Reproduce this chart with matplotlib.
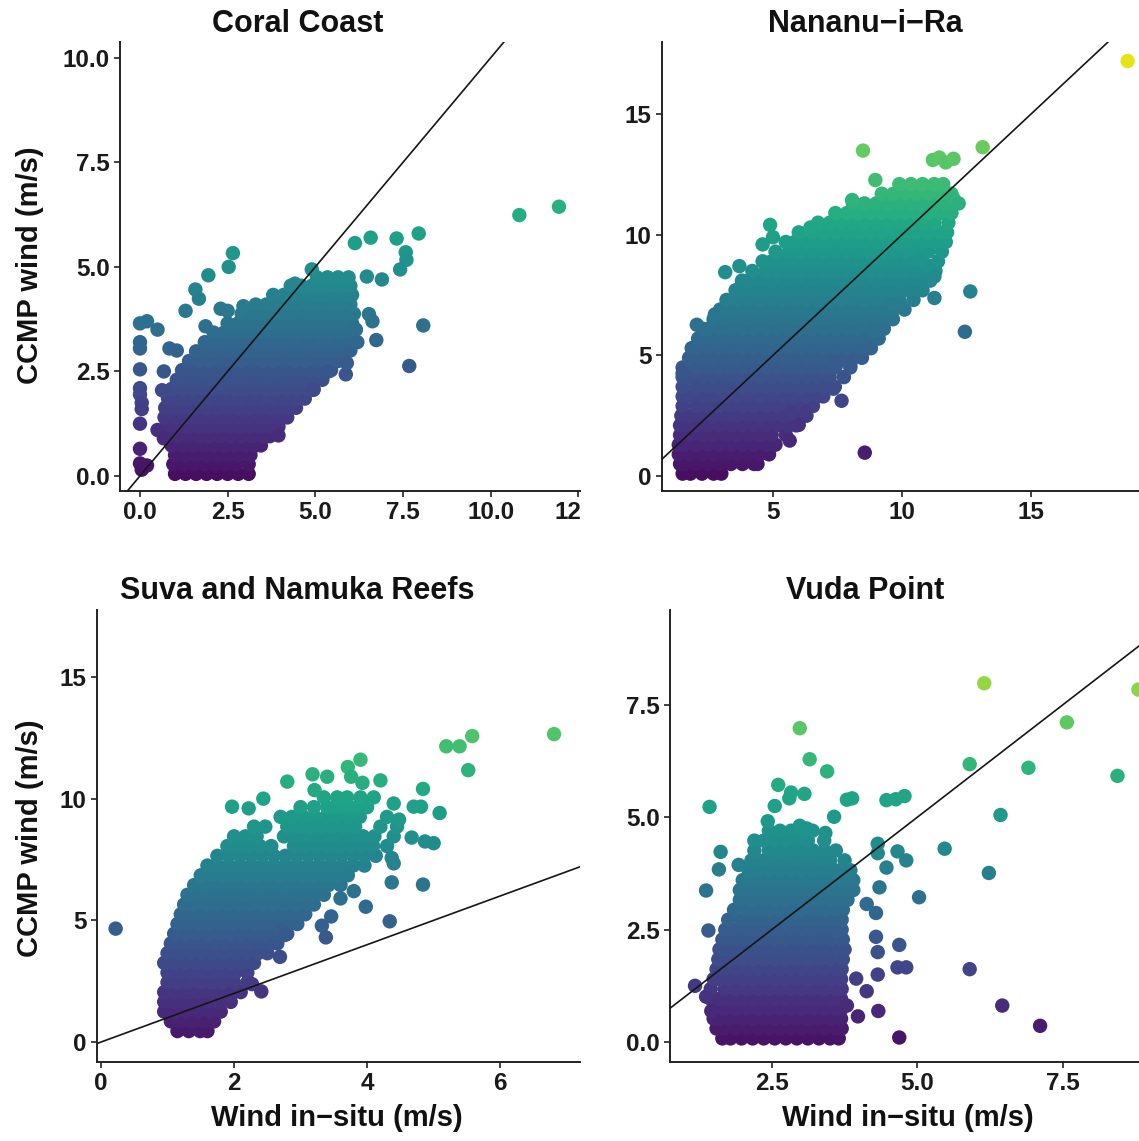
import numpy as np
import matplotlib
matplotlib.use("Agg")
import matplotlib.pyplot as plt
from matplotlib.transforms import Bbox, TransformedBbox

plt.rcParams['font.family'] = ['Liberation Sans', 'DejaVu Sans']
plt.rcParams['font.weight'] = 'bold'

W, H = 1139, 1141

# --- Coral Coast : rows of the dense cloud (CCMP, [in-situ ...]) + isolated points
coral_rows = [
    (0.05, [1.0, 1.3, 1.6, 1.9, 2.2, 2.5, 2.8, 3.1]),
    (0.28, [0.95, 1.25, 1.55, 1.85, 2.15, 2.45, 2.75, 3.1]),
    (0.5, [1.0, 1.3, 1.6, 1.9, 2.2, 2.5, 2.8, 3.15]),
    (0.73, [0.9, 1.2, 1.5, 1.8, 2.1, 2.4, 2.7, 3.0, 3.3, 3.45]),
    (0.95, [0.8, 1.1, 1.4, 1.7, 2.0, 2.3, 2.6, 2.9, 3.2, 3.5, 3.7]),
    (1.18, [0.75, 1.05, 1.35, 1.65, 1.95, 2.25, 2.55, 2.85, 3.15, 3.45, 3.75, 3.95]),
    (1.4, [0.7, 1.0, 1.3, 1.6, 1.9, 2.2, 2.5, 2.8, 3.1, 3.4, 3.7, 4.0, 4.2]),
    (1.63, [0.72, 1.0, 1.3, 1.6, 1.9, 2.2, 2.5, 2.8, 3.1, 3.4, 3.7, 4.0, 4.3, 4.45]),
    (1.85, [0.8, 1.1, 1.4, 1.7, 2.0, 2.3, 2.6, 2.9, 3.2, 3.5, 3.8, 4.1, 4.4, 4.7]),
    (2.08, [0.9, 1.2, 1.5, 1.8, 2.1, 2.4, 2.7, 3.0, 3.3, 3.6, 3.9, 4.2, 4.5, 4.8, 4.95]),
    (2.3, [1.05, 1.35, 1.65, 1.95, 2.25, 2.55, 2.85, 3.15, 3.45, 3.75, 4.05, 4.35, 4.65, 4.95, 5.2]),
    (2.53, [1.2, 1.5, 1.8, 2.1, 2.4, 2.7, 3.0, 3.3, 3.6, 3.9, 4.2, 4.5, 4.8, 5.1, 5.45]),
    (2.75, [1.4, 1.7, 2.0, 2.3, 2.6, 2.9, 3.2, 3.5, 3.8, 4.1, 4.4, 4.7, 5.0, 5.3, 5.65]),
    (2.98, [1.6, 1.9, 2.2, 2.5, 2.8, 3.1, 3.4, 3.7, 4.0, 4.3, 4.6, 4.9, 5.2, 5.5, 5.8]),
    (3.2, [1.85, 2.15, 2.45, 2.75, 3.05, 3.35, 3.65, 3.95, 4.25, 4.55, 4.85, 5.15, 5.45, 5.75, 5.9]),
    (3.43, [2.1, 2.4, 2.7, 3.0, 3.3, 3.6, 3.9, 4.2, 4.5, 4.8, 5.1, 5.4, 5.7, 6.0]),
    (3.65, [2.5, 2.8, 3.1, 3.4, 3.7, 4.0, 4.3, 4.6, 4.9, 5.2, 5.5, 5.8, 6.05]),
    (3.88, [2.9, 3.2, 3.5, 3.8, 4.1, 4.4, 4.7, 5.0, 5.3, 5.6, 5.9, 6.1]),
    (4.1, [3.3, 3.6, 3.9, 4.2, 4.5, 4.8, 5.1, 5.4, 5.7, 6.0]),
    (4.33, [3.8, 4.1, 4.4, 4.7, 5.0, 5.3, 5.6, 5.9, 6.05]),
    (4.55, [4.3, 4.6, 4.9, 5.2, 5.5, 5.8, 6.0]),
    (4.75, [5.05, 5.35, 5.65, 5.95]),
]
coral_x = [0.0, 0.2, 0.5, 0.0, 0.0, 0.0, 0.0, 0.0, 0.05, 0.05, 0.0, 0.0, 0.0, 0.05, 0.2,
           0.5, 0.68, 0.63, 0.68, 0.84, 1.05, 1.3, 1.58, 1.68, 1.95, 2.53, 2.65, 2.3, 2.5,
           2.95, 1.87, 4.42, 4.9, 6.13, 6.58, 7.32, 7.95, 7.58, 7.6, 7.42, 6.47, 6.9, 6.53,
           6.63, 6.74, 8.08, 7.68, 6.16, 5.87, 4.95, 3.95, 5.37, 6.0, 6.2, 5.9, 10.82, 11.95]
coral_y = [3.65, 3.7, 3.5, 3.2, 3.05, 2.55, 2.1, 1.95, 1.75, 1.6, 1.25, 0.65, 0.3, 0.15, 0.25,
           1.1, 0.9, 2.05, 2.5, 3.05, 3.0, 3.95, 4.46, 4.24, 4.8, 5.0, 5.33, 4.0, 3.95,
           4.06, 3.58, 4.6, 4.94, 5.57, 5.7, 5.68, 5.8, 5.35, 5.17, 4.94, 4.77, 4.7, 3.87,
           3.7, 3.25, 3.6, 2.63, 3.5, 2.43, 2.06, 0.97, 2.5, 3.0, 3.2, 2.7, 6.24, 6.44]

# --- Nananu-i-Ra
nananu_rows = [
    (0.1, [1.5, 1.8, 2.25, 2.7, 3.0]),
    (0.5, [1.4, 1.57, 2.02, 2.47, 2.92, 3.37, 3.82, 4.27, 4.4]),
    (0.9, [1.35, 1.8, 2.25, 2.7, 3.15, 3.6, 4.05, 4.5, 4.85]),
    (1.3, [1.35, 1.57, 2.02, 2.47, 2.92, 3.37, 3.82, 4.27, 4.72, 5.1]),
    (1.7, [1.4, 1.8, 2.25, 2.7, 3.15, 3.6, 4.05, 4.5, 4.95, 5.5]),
    (2.1, [1.4, 1.57, 2.02, 2.47, 2.92, 3.37, 3.82, 4.27, 4.72, 5.17, 5.62, 5.9]),
    (2.5, [1.45, 1.8, 2.25, 2.7, 3.15, 3.6, 4.05, 4.5, 4.95, 5.4, 5.85, 6.3]),
    (2.9, [1.5, 2.02, 2.47, 2.92, 3.37, 3.82, 4.27, 4.72, 5.17, 5.62, 6.07, 6.55]),
    (3.3, [1.5, 1.8, 2.25, 2.7, 3.15, 3.6, 4.05, 4.5, 4.95, 5.4, 5.85, 6.3, 6.75, 6.95]),
    (3.7, [1.5, 2.02, 2.47, 2.92, 3.37, 3.82, 4.27, 4.72, 5.17, 5.62, 6.07, 6.52, 6.97, 7.4]),
    (4.1, [1.5, 1.8, 2.25, 2.7, 3.15, 3.6, 4.05, 4.5, 4.95, 5.4, 5.85, 6.3, 6.75, 7.2, 7.75]),
    (4.5, [1.5, 2.02, 2.47, 2.92, 3.37, 3.82, 4.27, 4.72, 5.17, 5.62, 6.07, 6.52, 6.97, 7.42,
           8.0]),
    (4.9, [1.75, 2.25, 2.7, 3.15, 3.6, 4.05, 4.5, 4.95, 5.4, 5.85, 6.3, 6.75, 7.2, 7.65, 8.1,
           8.45]),
    (5.3, [1.85, 2.02, 2.47, 2.92, 3.37, 3.82, 4.27, 4.72, 5.17, 5.62, 6.07, 6.52, 6.97, 7.42,
           7.87, 8.32, 8.8]),
    (5.7, [2.1, 2.25, 2.7, 3.15, 3.6, 4.05, 4.5, 4.95, 5.4, 5.85, 6.3, 6.75, 7.2, 7.65, 8.1,
           8.55, 9.1]),
    (6.1, [2.3, 2.47, 2.92, 3.37, 3.82, 4.27, 4.72, 5.17, 5.62, 6.07, 6.52, 6.97, 7.42, 7.87,
           8.32, 8.77, 9.3]),
    (6.5, [2.7, 3.15, 3.6, 4.05, 4.5, 4.95, 5.4, 5.85, 6.3, 6.75, 7.2, 7.65, 8.1, 8.55, 9.0,
           9.45, 9.65]),
    (6.9, [2.95, 3.37, 3.82, 4.27, 4.72, 5.17, 5.62, 6.07, 6.52, 6.97, 7.42, 7.87, 8.32, 8.77,
           9.22, 9.67, 10.1]),
    (7.3, [3.2, 3.6, 4.05, 4.5, 4.95, 5.4, 5.85, 6.3, 6.75, 7.2, 7.65, 8.1, 8.55, 9.0, 9.45,
           9.9, 10.45]),
    (7.7, [3.55, 3.82, 4.27, 4.72, 5.17, 5.62, 6.07, 6.52, 6.97, 7.42, 7.87, 8.32, 8.77, 9.22,
           9.67, 10.12, 10.57, 10.8]),
    (8.1, [3.8, 4.05, 4.5, 4.95, 5.4, 5.85, 6.3, 6.75, 7.2, 7.65, 8.1, 8.55, 9.0, 9.45, 9.9,
           10.35, 10.8, 11.1]),
    (8.5, [4.2, 4.72, 5.17, 5.62, 6.07, 6.52, 6.97, 7.42, 7.87, 8.32, 8.77, 9.22, 9.67, 10.12,
           10.57, 11.02, 11.3]),
    (8.9, [4.6, 4.95, 5.4, 5.85, 6.3, 6.75, 7.2, 7.65, 8.1, 8.55, 9.0, 9.45, 9.9, 10.35, 10.8,
           11.4]),
    (9.3, [5.1, 5.62, 6.07, 6.52, 6.97, 7.42, 7.87, 8.32, 8.77, 9.22, 9.67, 10.12, 10.57, 11.02,
           11.55]),
    (9.7, [5.5, 5.85, 6.3, 6.75, 7.2, 7.65, 8.1, 8.55, 9.0, 9.45, 9.9, 10.35, 10.8, 11.25, 11.7]),
    (10.1, [6.0, 6.52, 6.97, 7.42, 7.87, 8.32, 8.77, 9.22, 9.67, 10.12, 10.57, 11.02, 11.47,
            11.75]),
    (10.5, [6.75, 7.2, 7.65, 8.1, 8.55, 9.0, 9.45, 9.9, 10.35, 10.8, 11.25, 11.8]),
    (10.9, [7.42, 7.87, 8.32, 8.77, 9.22, 9.67, 10.12, 10.57, 11.02, 11.47, 11.92]),
    (11.3, [8.1, 8.55, 9.0, 9.45, 9.9, 10.35, 10.8, 11.25, 11.7, 12.1]),
    (11.7, [9.22, 9.67, 10.12, 10.57, 11.02, 11.47, 11.92]),
    (12.1, [9.9, 10.35, 10.8, 11.25, 11.6]),
]
nananu_x = [4.89, 8.07, 6.45, 8.49, 8.97, 11.2, 11.45, 11.7, 12.0, 13.13, 18.75, 12.0, 12.2,
            12.65, 11.26, 12.44, 9.94, 11.12, 11.26, 10.7, 9.67, 8.56, 7.66, 7.34, 6.0, 6.27,
            5.72, 5.65, 8.0, 7.45, 8.6, 8.9, 8.7, 3.15, 3.7, 2.05, 1.5, 2.75, 5.0, 4.6]
nananu_y = [10.41, 11.44, 10.3, 13.49, 12.27, 13.1, 13.2, 13.0, 13.15, 13.63, 17.2, 11.5, 11.3,
            7.65, 7.38, 5.98, 7.12, 8.7, 8.27, 8.98, 7.12, 0.97, 3.12, 3.62, 2.12, 2.62,
            2.62, 1.47, 4.62, 4.62, 5.6, 6.0, 5.3, 8.45, 8.7, 6.27, 4.26, 6.7, 9.9, 9.6]

# --- Suva and Namuka Reefs
suva_rows = [
    (0.45, [1.15, 1.32, 1.49, 1.6]),
    (0.85, [1.05, 1.2, 1.37, 1.54, 1.7]),
    (1.25, [0.95, 1.12, 1.29, 1.46, 1.63, 1.8]),
    (1.65, [0.95, 1.1, 1.27, 1.44, 1.61, 1.78, 1.95]),
    (2.05, [0.95, 1.12, 1.29, 1.46, 1.63, 1.8, 1.97, 2.1]),
    (2.45, [1.0, 1.15, 1.32, 1.49, 1.66, 1.83, 2.0, 2.2]),
    (2.85, [1.0, 1.17, 1.34, 1.51, 1.68, 1.85, 2.02, 2.2]),
    (3.25, [0.95, 1.1, 1.27, 1.44, 1.61, 1.78, 1.95, 2.12, 2.3]),
    (3.65, [1.0, 1.17, 1.34, 1.51, 1.68, 1.85, 2.02, 2.19, 2.36, 2.5]),
    (4.05, [1.05, 1.2, 1.37, 1.54, 1.71, 1.88, 2.05, 2.22, 2.39, 2.56, 2.65]),
    (4.45, [1.1, 1.27, 1.44, 1.61, 1.78, 1.95, 2.12, 2.29, 2.46, 2.63, 2.8]),
    (4.85, [1.15, 1.3, 1.47, 1.64, 1.81, 1.98, 2.15, 2.32, 2.49, 2.66, 2.83, 2.95]),
    (5.25, [1.2, 1.37, 1.54, 1.71, 1.88, 2.05, 2.22, 2.39, 2.56, 2.73, 2.9, 3.07]),
    (5.65, [1.25, 1.4, 1.57, 1.74, 1.91, 2.08, 2.25, 2.42, 2.59, 2.76, 2.93, 3.1, 3.2]),
    (6.05, [1.3, 1.47, 1.64, 1.81, 1.98, 2.15, 2.32, 2.49, 2.66, 2.83, 3.0, 3.17, 3.35]),
    (6.45, [1.4, 1.55, 1.72, 1.89, 2.06, 2.23, 2.4, 2.57, 2.74, 2.91, 3.08, 3.25, 3.42, 3.6]),
    (6.85, [1.5, 1.67, 1.84, 2.01, 2.18, 2.35, 2.52, 2.69, 2.86, 3.03, 3.2, 3.37, 3.54, 3.71]),
    (7.25, [1.6, 1.75, 1.92, 2.09, 2.26, 2.43, 2.6, 2.77, 2.94, 3.11, 3.28, 3.45, 3.62, 3.79,
            3.96]),
    (7.65, [1.75, 1.92, 2.09, 2.26, 2.43, 2.6, 2.77, 2.94, 3.11, 3.28, 3.45, 3.62, 3.79, 3.96,
            4.13]),
    (8.05, [1.9, 2.05, 2.22, 2.39, 2.56, 2.9, 3.07, 3.24, 3.41, 3.58, 3.75, 3.92, 4.09, 4.3]),
    (8.45, [2.0, 2.17, 2.34, 2.75, 2.92, 3.09, 3.26, 3.43, 3.6, 3.77, 3.94, 4.11, 4.4]),
    (8.85, [2.3, 2.47, 2.8, 2.97, 3.14, 3.31, 3.48, 3.65, 3.82, 4.2, 4.45]),
    (9.25, [2.7, 2.87, 3.04, 3.21, 3.38, 3.55, 3.72, 3.89, 4.3]),
    (9.65, [3.0, 3.2, 3.4, 3.55, 3.7, 3.85, 4.0]),
    (10.05, [3.35, 3.55, 3.7, 3.9]),
]
suva_x = [0.22, 1.97, 2.22, 2.44, 2.8, 3.18, 3.4, 3.21, 3.71, 3.9, 3.76, 3.93, 4.2, 4.1, 4.4,
          4.84, 4.7, 4.81, 5.09, 4.87, 5.0, 4.67, 4.48, 4.37, 4.4, 4.37, 4.84, 3.98, 4.34,
          3.46, 3.32, 3.38, 2.72, 2.77, 2.69, 2.27, 2.41, 1.94, 5.19, 5.39, 5.58, 5.52, 6.81,
          3.6, 3.8]
suva_y = [4.66, 9.67, 9.6, 10.0, 10.7, 11.0, 10.9, 10.35, 11.3, 11.6, 10.9, 10.65, 10.75, 10.05,
          9.8, 10.4, 9.67, 9.67, 9.41, 8.24, 8.17, 8.4, 9.14, 7.56, 7.34, 6.56, 6.47, 5.56,
          4.96, 5.16, 4.78, 4.3, 4.56, 4.4, 3.5, 2.38, 2.08, 1.92, 12.15, 12.15, 12.57,
          11.17, 12.65, 5.9, 6.2]

# --- Vuda Point
vuda_rows = [
    (0.08, [1.65, 1.79, 1.98, 2.17, 2.36, 2.55, 2.74, 2.93, 3.12, 3.31, 3.5, 3.65]),
    (0.3, [1.55, 1.69, 1.88, 2.07, 2.26, 2.45, 2.64, 2.83, 3.02, 3.21, 3.4, 3.59, 3.7]),
    (0.52, [1.5, 1.6, 1.79, 1.98, 2.17, 2.36, 2.55, 2.74, 2.93, 3.12, 3.31, 3.5, 3.69]),
    (0.74, [1.5, 1.69, 1.88, 2.07, 2.26, 2.45, 2.64, 2.83, 3.02, 3.21, 3.4, 3.59, 3.7]),
    (0.96, [1.45, 1.6, 1.79, 1.98, 2.17, 2.36, 2.55, 2.74, 2.93, 3.12, 3.31, 3.5, 3.69]),
    (1.18, [1.45, 1.69, 1.88, 2.07, 2.26, 2.45, 2.64, 2.83, 3.02, 3.21, 3.4, 3.59, 3.7]),
    (1.4, [1.5, 1.6, 1.79, 1.98, 2.17, 2.36, 2.55, 2.74, 2.93, 3.12, 3.31, 3.5, 3.69]),
    (1.62, [1.55, 1.69, 1.88, 2.07, 2.26, 2.45, 2.64, 2.83, 3.02, 3.21, 3.4, 3.59, 3.7]),
    (1.84, [1.58, 1.79, 1.98, 2.17, 2.36, 2.55, 2.74, 2.93, 3.12, 3.31, 3.5, 3.72]),
    (2.06, [1.6, 1.69, 1.88, 2.07, 2.26, 2.45, 2.64, 2.83, 3.02, 3.21, 3.4, 3.59, 3.75]),
    (2.28, [1.65, 1.79, 1.98, 2.17, 2.36, 2.55, 2.74, 2.93, 3.12, 3.31, 3.5, 3.72]),
    (2.5, [1.7, 1.88, 2.07, 2.26, 2.45, 2.64, 2.83, 3.02, 3.21, 3.4, 3.59, 3.7]),
    (2.72, [1.75, 1.98, 2.17, 2.36, 2.55, 2.74, 2.93, 3.12, 3.31, 3.5, 3.7]),
    (2.94, [1.85, 2.07, 2.26, 2.45, 2.64, 2.83, 3.02, 3.21, 3.4, 3.59, 3.72]),
    (3.16, [1.95, 2.17, 2.36, 2.55, 2.74, 2.93, 3.12, 3.31, 3.5, 3.69, 3.8]),
    (3.38, [1.95, 2.07, 2.26, 2.45, 2.64, 2.83, 3.02, 3.21, 3.4, 3.59, 3.78, 3.9]),
    (3.6, [2.0, 2.17, 2.36, 2.55, 2.74, 2.93, 3.12, 3.31, 3.5, 3.69, 3.9]),
    (3.82, [2.1, 2.26, 2.45, 2.64, 2.83, 3.02, 3.21, 3.4, 3.59, 3.78, 3.85]),
    (4.04, [2.15, 2.36, 2.55, 2.74, 2.93, 3.12, 3.31, 3.5, 3.75]),
    (4.26, [2.2, 2.45, 2.64, 2.83, 3.02, 3.21, 3.4, 3.6]),
    (4.48, [2.2, 2.36, 2.55, 2.74, 2.93, 3.12, 3.4]),
    (4.7, [2.45, 2.64, 2.83, 3.02, 3.2]),
]
vuda_x = [1.43, 1.62, 1.59, 1.37, 1.41, 1.18, 1.37, 1.46, 1.93, 2.98, 3.15, 3.45, 2.61, 2.83,
          3.06, 2.8, 3.79, 3.88, 4.47, 4.63, 4.78, 2.55, 2.43, 3.57, 3.42, 4.32, 4.32, 4.66,
          4.81, 4.47, 4.35, 4.29, 4.13, 5.03, 5.47, 4.29, 4.32, 4.69, 4.66, 4.81, 4.32, 3.95,
          4.13, 4.33, 3.79, 3.98, 4.69, 5.9, 6.46, 7.11, 6.23, 6.43, 5.9, 6.15, 6.91, 7.57,
          8.44, 8.8, 2.98, 3.1]
vuda_y = [5.23, 4.23, 3.84, 3.37, 2.48, 1.25, 1.01, 0.69, 3.94, 6.98, 6.29, 6.02, 5.72, 5.55,
          5.52, 5.42, 5.39, 5.42, 5.38, 5.4, 5.47, 5.25, 4.91, 5.01, 4.65, 4.41, 4.2, 4.24,
          4.04, 3.88, 3.44, 2.87, 3.07, 3.22, 4.3, 2.34, 2.0, 2.16, 1.66, 1.66, 1.5, 1.41,
          1.13, 0.69, 0.81, 0.57, 0.1, 1.62, 0.81, 0.36, 3.76, 5.05, 6.18, 7.98, 6.1, 7.11,
          5.92, 7.84, 4.81, 4.75]


def unpack(rows, ex_x, ex_y):
    xs, ys = [], []
    for yv, row in rows:
        xs += row
        ys += [yv] * len(row)
    return np.array(xs + ex_x), np.array(ys + ex_y)


def add_panel(fig, box, x, y, xlim, ylim, xticks, xlabs, yticks, ylabs):
    l, t, r, b = box
    ax = fig.add_axes([l / W, 1 - b / H, (r - l) / W, (b - t) / H])
    norm = plt.Normalize(*ylim)
    ax.scatter(x, y, c=y, cmap='viridis', norm=norm, s=108, linewidths=0, zorder=2)
    ax.plot([-5, 25], [-5, 25], color='#151515', lw=1.2, zorder=3)
    ax.set_xlim(*xlim)
    ax.set_ylim(*ylim)
    ax.set_xticks(xticks, xlabs)
    ax.set_yticks(yticks, ylabs)
    for s in ('top', 'right'):
        ax.spines[s].set_visible(False)
    for s in ('left', 'bottom'):
        ax.spines[s].set_linewidth(1.4)
        ax.spines[s].set_color('#222222')
    ax.tick_params(length=4.5, width=1.2, color='#222222', labelsize=17.5,
                   labelcolor='#1a1a1a', pad=3)
    return ax


fig = plt.figure(figsize=(W / 100, H / 100), dpi=100)

cx, cy = unpack(coral_rows, coral_x, coral_y)
ax1 = add_panel(fig, (120, 42, 580, 491), cx, cy, (-0.57, 12.55), (-0.36, 10.38),
                [0, 2.5, 5, 7.5, 10, 12.5], ['0.0', '2.5', '5.0', '7.5', '10.0', '12.5'],
                [0, 2.5, 5, 7.5, 10], ['0.0', '2.5', '5.0', '7.5', '10.0'])
# last x label is cut by the neighbouring panel
clip = TransformedBbox(Bbox([[0, 0], [580 / W, 1]]), fig.transFigure)
for lbl in ax1.get_xticklabels():
    lbl.set_clip_box(clip)
    lbl.set_clip_on(True)

nx, ny = unpack(nananu_rows, nananu_x, nananu_y)
add_panel(fig, (662, 42, 1139, 491), nx, ny, (0.70, 19.19), (-0.62, 17.99),
          [5, 10, 15], ['5', '10', '15'], [0, 5, 10, 15], ['0', '5', '10', '15'])

sx, sy = unpack(suva_rows, suva_x, suva_y)
add_panel(fig, (97, 610, 580, 1062), sx, sy, (-0.06, 7.2), (-0.82, 17.75),
          [0, 2, 4, 6], ['0', '2', '4', '6'], [0, 5, 10, 15], ['0', '5', '10', '15'])

vx, vy = unpack(vuda_rows, vuda_x, vuda_y)
add_panel(fig, (670, 610, 1139, 1062), vx, vy, (0.75, 8.81), (-0.445, 9.61),
          [2.5, 5, 7.5], ['2.5', '5.0', '7.5'], [0, 2.5, 5, 7.5], ['0.0', '2.5', '5.0', '7.5'])

titles = [('Coral Coast', 298, 24), ('Nananu\u2212i\u2212Ra', 865, 24),
          ('Suva and Namuka Reefs', 297, 591), ('Vuda Point', 865, 591)]
for txt, px, py in titles:
    fig.text(px / W, 1 - py / H, txt, ha='center', va='center', fontsize=22,
             color='#111111')

for py in (265, 838):
    fig.text(30 / W, 1 - py / H, 'CCMP wind (m/s)', rotation=90, ha='center',
             va='center', fontsize=21, color='#111111')
for px in (337, 908):
    fig.text(px / W, 1 - 1118 / H, 'Wind in\u2212situ (m/s)', ha='center', va='center',
             fontsize=21, color='#111111')

fig.savefig('out.png', dpi=100)
